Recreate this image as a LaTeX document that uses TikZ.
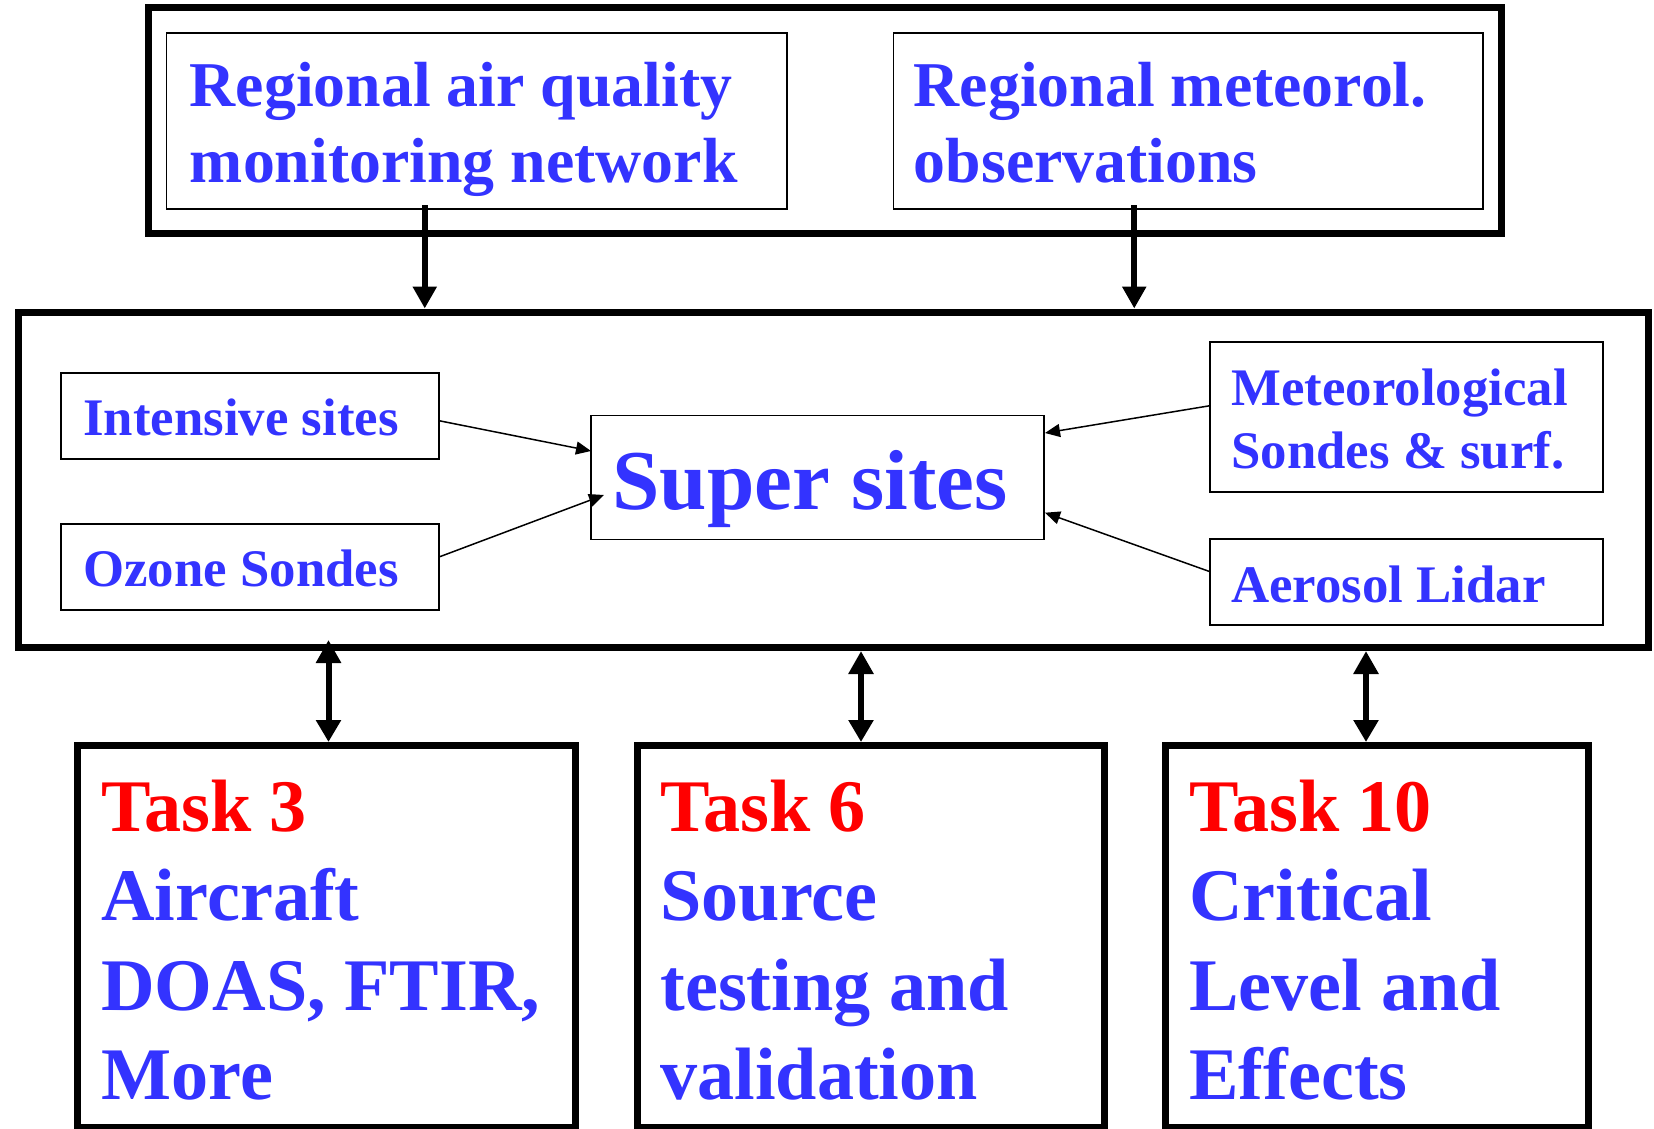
\documentclass[tikz,border=0pt]{standalone}
\usepackage{fontspec}
\setmainfont{Liberation Serif}
\usetikzlibrary{arrows.meta}
\definecolor{tblue}{HTML}{3333FF}
\definecolor{tred}{HTML}{FF0000}
\begin{document}
\begin{tikzpicture}[x=0.5pt,y=-0.5pt,
  heavybox/.style={draw, line width=3.5pt, inner sep=0pt, outer sep=0pt},
  lightbox/.style={draw, line width=0.7pt, inner sep=0pt, outer sep=0pt},
  bigtxt/.style={inner sep=0pt, anchor=base west, align=left, text=tblue,
    font=\bfseries\fontsize{31.9}{38}\selectfont},
  midtxt/.style={inner sep=0pt, anchor=base west, align=left, text=tblue,
    font=\bfseries\fontsize{26.4}{31.5}\selectfont},
  supertxt/.style={inner sep=0pt, anchor=base west, text=tblue,
    font=\bfseries\fontsize{42.6}{50}\selectfont},
  tasktxt/.style={inner sep=0pt, anchor=base west, align=left, text=tblue,
    font=\bfseries\fontsize{37.1}{44.75}\selectfont},
  bigarrow/.style={line width=3pt, -{Triangle[length=11pt,width=11.5pt]}},
  dblarrow/.style={line width=3pt, {Triangle[length=11.5pt,width=12pt]}-{Triangle[length=11pt,width=12pt]}},
  thinarrow/.style={line width=0.75pt, -{Triangle[length=7.5pt,width=6.5pt]}}
]
\useasboundingbox (0,0) rectangle (1654,1129);

% top group
\node[heavybox, minimum width=676.25pt, minimum height=113pt] (topgrp) at (824.75,120.5) {};
\node[lightbox, minimum width=310.25pt, minimum height=88pt] (aq) at (476.75,121) {};
\node[lightbox, minimum width=294.75pt, minimum height=88pt] (metobs) at (1188.25,121) {};
\node[bigtxt] (aqtxt) at (189.5,183) {Regional air quality\\monitoring network};
\node[bigtxt] (metobstxt) at (913.5,183) {Regional meteorol.\\observations};

% middle group
\node[heavybox, minimum width=815pt, minimum height=167.25pt] (middle) at (833,479.75) {};
\node[lightbox, minimum width=189pt, minimum height=43pt] (intensive) at (250,416) {};
\node[lightbox, minimum width=189pt, minimum height=43pt] (ozone) at (250,567) {};
\node[lightbox, minimum width=226.5pt, minimum height=62pt] (super) at (817.5,477.5) {};
\node[lightbox, minimum width=196.5pt, minimum height=75pt] (metsondes) at (1406.5,417) {};
\node[lightbox, minimum width=196.5pt, minimum height=43pt] (aerosol) at (1406.5,582) {};
\node[midtxt] (intensivetxt) at (83,435) {Intensive sites};
\node[midtxt] (ozonetxt) at (83,586) {Ozone Sondes};
\node[supertxt] (supertxt) at (612,509) {Super sites};
\node[midtxt] (metsondestxt) at (1231,468) {Meteorological\\Sondes \& surf.};
\node[midtxt] (aerosoltxt) at (1231,602) {Aerosol Lidar};

% bottom group
\node[heavybox, minimum width=249pt, minimum height=191pt] (t3) at (326,936) {};
\node[heavybox, minimum width=233.5pt, minimum height=191pt] (t6) at (870.5,936) {};
\node[heavybox, minimum width=211.5pt, minimum height=191pt] (t10) at (1376.5,936) {};
\node[tasktxt] (t3txt) at (101,1099.5) {{\color{tred}Task 3}\\Aircraft\\DOAS, FTIR,\\More};
\node[tasktxt] (t6txt) at (660,1099.5) {{\color{tred}Task 6}\\Source\\testing and\\validation};
\node[tasktxt] (t10txt) at (1189,1099.5) {{\color{tred}Task 10}\\Critical\\Level and\\Effects};

% top arrows
\coordinate (a1) at ([xshift=-26pt,yshift=2pt]aq.south);
\coordinate (a2) at ([xshift=-27pt,yshift=2pt]metobs.south);
\draw[bigarrow, shorten >=2pt] (a1) -- (a1 |- middle.north);
\draw[bigarrow, shorten >=2pt] (a2) -- (a2 |- middle.north);

% thin arrows to super sites
\draw[thinarrow] ([yshift=-2.35pt]intensive.east) -- ([yshift=13.25pt]super.west);
\draw[thinarrow] ([yshift=5pt]ozone.east) -- ([xshift=6.5pt,yshift=-8.75pt]super.west);
\draw[thinarrow] ([yshift=5.65pt]metsondes.west) -- ([xshift=0.5pt,yshift=22.25pt]super.east);
\draw[thinarrow] ([yshift=5.15pt]aerosol.west) -- ([xshift=0.5pt,yshift=-17.6pt]super.east);

% bottom double arrows
\coordinate (b1) at ([xshift=1.25pt]t3.north);
\coordinate (b2) at ([xshift=-4.75pt]t6.north);
\coordinate (b3) at ([xshift=-5.25pt]t10.north);
\draw[dblarrow, shorten <=-3.5pt, shorten >=1.5pt] (b1 |- middle.south) -- (b1);
\draw[dblarrow, shorten <=2pt, shorten >=1.5pt] (b2 |- middle.south) -- (b2);
\draw[dblarrow, shorten <=2pt, shorten >=1.5pt] (b3 |- middle.south) -- (b3);
\end{tikzpicture}
\end{document}
